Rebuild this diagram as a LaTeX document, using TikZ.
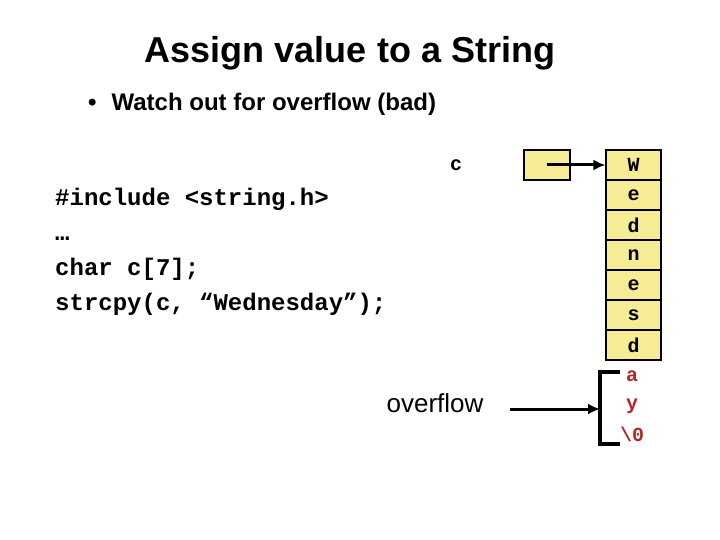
\documentclass[tikz,border=0pt]{standalone}
\usepackage{fontspec}
\usepackage{xcolor}
\setmainfont{Liberation Sans}
\newfontfamily\codefont{Liberation Mono}
\usetikzlibrary{arrows.meta}

\definecolor{cellfill}{RGB}{247,236,150}
\definecolor{ovred}{RGB}{178,40,40}

\begin{document}
\begin{tikzpicture}[x=1pt, y=-1pt,
    cell/.style={draw, line width=1.1pt, fill=cellfill, minimum width=55pt, minimum height=30pt, inner sep=0pt,
      font=\codefont\bfseries\fontsize{20}{20}\selectfont},
    codeline/.style={anchor=base west, inner sep=0pt, font=\codefont\bfseries\fontsize{24}{24}\selectfont},
    ovchar/.style={inner sep=0pt, text=ovred, font=\codefont\bfseries\fontsize{20}{20}\selectfont},
    ptr/.style={line width=3pt, -{Latex[length=12pt,width=11pt]}}]
    \useasboundingbox (0,0) rectangle (720,540);

    % Title and bullet
    \node[font=\bfseries\fontsize{36}{36}\selectfont] (title) at (350,53) {Assign value to a String};
    \node[anchor=west, inner sep=0pt, font=\bfseries\fontsize{24}{24}\selectfont] (bullet) at (88,104)
        {•\hspace{15pt}Watch out for overflow (bad)};

    % Code
    \node[codeline] (inc) at (55,206) {\#include <string.h>};
    \node[codeline] (dots) at (55,240.5) {…};
    \node[codeline] (decl) at (55,275) {char c[7];};
    \node[codeline] (copy) at (55,310) {strcpy(c, “Wednesday”);};

    % Pointer c and the array
    \node[font=\codefont\bfseries\fontsize{20}{20}\selectfont] (clabel) at (456,165) {c};
    \node[cell, minimum width=46pt] (cptr) at (547,165) {};
    \foreach \ch [count=\i] in {W,e,d,n,e,s,d}
        \node[cell] (cell\i) at (633.5,135+30*\i) {\ch};
    \draw[ptr] (cptr.center) -- (cell1.west);

    % Overflow part
    \node[ovchar] (ov1) at (632,376) {a};
    \node[ovchar] (ov2) at (632,406) {y};
    \node[ovchar] (ov3) at (632,434) {\textbackslash 0};
    \coordinate (brtop) at (620,372);
    \coordinate (brbot) at (620,444);
    \coordinate (brmid) at (600,409);
    \draw[line width=3.6pt] (brtop) -- (600,372) -- (600,444) -- (brbot);
    \node[font=\fontsize{26}{26}\selectfont] (ovlabel) at (435,403) {overflow};
    \draw[ptr] (510,409) -- (brmid);
\end{tikzpicture}
\end{document}
